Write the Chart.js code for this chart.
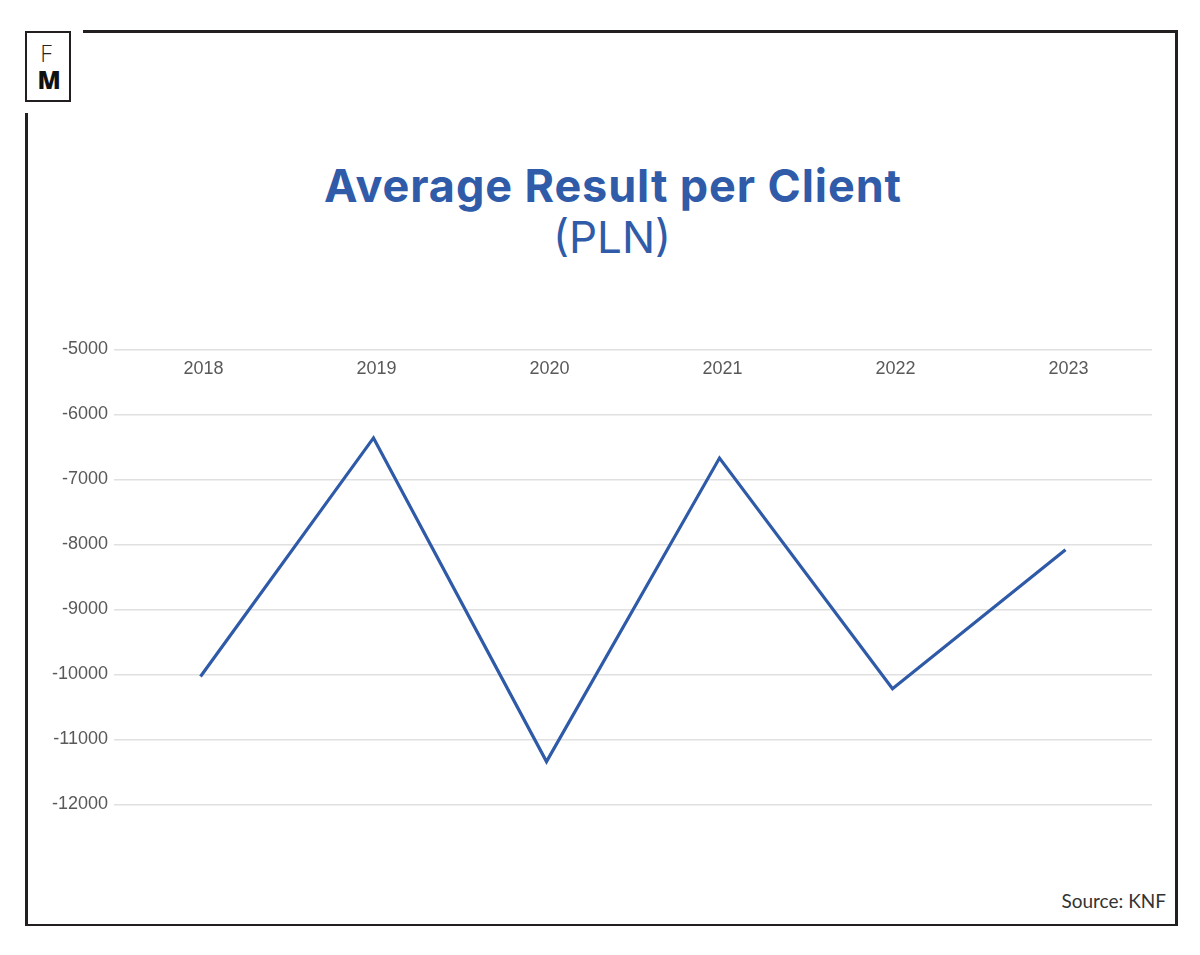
<!DOCTYPE html>
<html><head><meta charset="utf-8">
<script src="https://cdn.jsdelivr.net/npm/chart.js@4.4.0/dist/chart.umd.min.js"></script>
<style>
html,body{margin:0;padding:0;background:#fff;}
body{width:1200px;height:955px;position:relative;overflow:hidden;}
.ln{position:absolute;background:#231f20;}
#logo{position:absolute;left:25px;top:31px;width:42px;height:67px;border:2px solid #231f20;background:#fff;}
#logo .f{position:absolute;left:0;width:100%;text-align:center;top:9px;font:300 23px/1 "Open Sans",sans-serif;color:#222;margin-left:-2px;}
#logo .m{position:absolute;left:0;width:100%;text-align:center;top:35px;font:800 24px/1 "Open Sans",sans-serif;color:#111;margin-left:1px;}
#t1{position:absolute;left:0;width:1226px;text-align:center;top:163px;font:700 45px/1 Inter,sans-serif;color:#2f5ba9;letter-spacing:0.9px;}
#t2{position:absolute;left:0;width:1224px;text-align:center;top:215px;font:400 44px/1 Inter,sans-serif;color:#2f5ba9;}
#src{position:absolute;right:34px;top:891px;font:400 19px/1 Lato,sans-serif;color:#333;}
#cv{position:absolute;left:0;top:300px;}
</style></head><body>
<div class="ln" style="left:83px;top:30px;width:1095px;height:2.5px"></div>
<div class="ln" style="left:1175px;top:30px;width:2.5px;height:896px"></div>
<div class="ln" style="left:25px;top:923.5px;width:1152.5px;height:2.5px"></div>
<div class="ln" style="left:25px;top:113px;width:2.5px;height:813px"></div>
<div id="logo"><div class="f">F</div><div class="m">M</div></div>
<div id="t1">Average Result per Client</div>
<div id="t2">(PLN)</div>
<div id="src">Source: KNF</div>
<canvas id="cv" width="1200" height="540" style="width:1200px;height:540px"></canvas>
<script>
const years = ['2018', '2019', '2020', '2021', '2022', '2023'];
const avgResultPLN = [-10030, -6360, -11340, -6670, -10220, -8080];
const yMin = -12000;
const yMax = -5000;
const yStep = 1000;

const lineColor = '#2e5aa8';
const tickColor = '#595959';
const tickFont = {family: '"Liberation Sans", Arial, sans-serif', size: 18};

new Chart(document.getElementById('cv'), {
  type: 'line',
  data: {
    labels: years,
    datasets: [{
      data: avgResultPLN,
      borderColor: lineColor,
      borderWidth: 3.2,
      pointRadius: 0,
      tension: 0,
      fill: false
    }]
  },
  options: {
    responsive: false,
    animation: false,
    devicePixelRatio: 1,
    layout: {padding: {left: 0, right: 48, top: 49.5, bottom: 35.5}},
    plugins: {legend: {display: false}, tooltip: {enabled: false}, title: {display: false}},
    scales: {
      x: {
        position: 'top',
        offset: true,
        grid: {display: false, drawTicks: false},
        border: {display: false},
        ticks: {mirror: true, padding: 8.3, labelOffset: 3, font: tickFont, color: tickColor, maxRotation: 0},
        afterFit: (s) => { s.height = 0; }
      },
      y: {
        min: yMin,
        max: yMax,
        border: {display: false},
        grid: {color: '#e0e0e0', lineWidth: 1.5, drawTicks: false},
        ticks: {stepSize: yStep, padding: 6, font: tickFont, color: tickColor, callback: (v) => String(v)},
        afterFit: (s) => { s.width = 114; }
      }
    }
  }
});
</script>
</body></html>
